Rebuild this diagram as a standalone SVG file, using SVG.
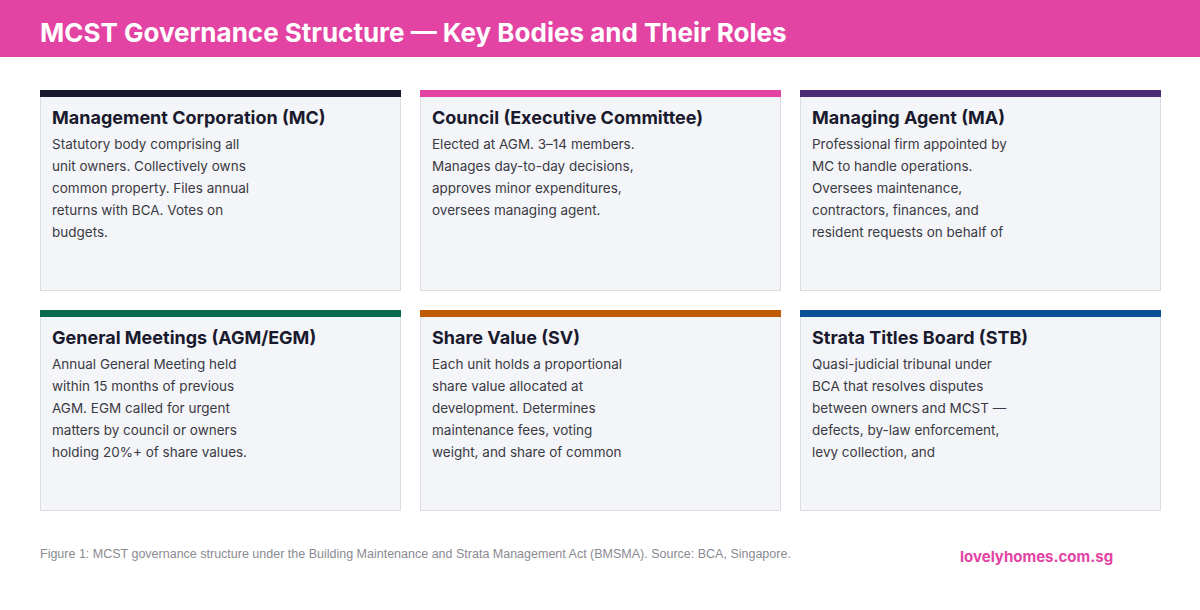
<svg xmlns="http://www.w3.org/2000/svg" width="1200" height="610" viewBox="0 0 1200 610">
<style>
.card{fill:#f4f5f8;stroke:#dcdde2;stroke-width:1}
.t{font-family:Inter,"Liberation Sans",sans-serif;font-weight:700;font-size:18px;fill:#1a1a2e}
.b{font-family:Inter,"Liberation Sans",sans-serif;font-size:13.5px;fill:#3a3a44}
</style>
<rect width="1200" height="610" fill="#ffffff"/>
<rect width="1200" height="57" fill="#e343a3"/>
<text x="40" y="42" font-family="Inter,'Liberation Sans',sans-serif" font-weight="700" font-size="26" fill="#ffffff">MCST Governance Structure — Key Bodies and Their Roles</text>
<g id="mc"><rect class="card" x="40.5" y="90.5" width="360" height="200"/><rect x="40" y="90" width="361" height="7" fill="#1a1a2e"/>
<text class="t" x="52" y="124">Management Corporation (MC)</text>
<text class="b"><tspan x="52" y="149">Statutory body comprising all</tspan><tspan x="52" y="171">unit owners. Collectively owns</tspan><tspan x="52" y="193">common property. Files annual</tspan><tspan x="52" y="215">returns with BCA. Votes on</tspan><tspan x="52" y="237">budgets.</tspan></text></g>
<g id="council"><rect class="card" x="420.5" y="90.5" width="360" height="200"/><rect x="420" y="90" width="361" height="7" fill="#e343a3"/>
<text class="t" x="432" y="124">Council (Executive Committee)</text>
<text class="b"><tspan x="432" y="149">Elected at AGM. 3–14 members.</tspan><tspan x="432" y="171">Manages day-to-day decisions,</tspan><tspan x="432" y="193">approves minor expenditures,</tspan><tspan x="432" y="215">oversees managing agent.</tspan></text></g>
<g id="ma"><rect class="card" x="800.5" y="90.5" width="360" height="200"/><rect x="800" y="90" width="361" height="7" fill="#4b2d73"/>
<text class="t" x="812" y="124">Managing Agent (MA)</text>
<text class="b"><tspan x="812" y="149">Professional firm appointed by</tspan><tspan x="812" y="171">MC to handle operations.</tspan><tspan x="812" y="193">Oversees maintenance,</tspan><tspan x="812" y="215">contractors, finances, and</tspan><tspan x="812" y="237">resident requests on behalf of</tspan></text></g>
<g id="gm"><rect class="card" x="40.5" y="310.5" width="360" height="200"/><rect x="40" y="310" width="361" height="7" fill="#0a6a50"/>
<text class="t" x="52" y="344">General Meetings (AGM/EGM)</text>
<text class="b"><tspan x="52" y="369">Annual General Meeting held</tspan><tspan x="52" y="391">within 15 months of previous</tspan><tspan x="52" y="413">AGM. EGM called for urgent</tspan><tspan x="52" y="435">matters by council or owners</tspan><tspan x="52" y="457">holding 20%+ of share values.</tspan></text></g>
<g id="sv"><rect class="card" x="420.5" y="310.5" width="360" height="200"/><rect x="420" y="310" width="361" height="7" fill="#bf5b04"/>
<text class="t" x="432" y="344">Share Value (SV)</text>
<text class="b"><tspan x="432" y="369">Each unit holds a proportional</tspan><tspan x="432" y="391">share value allocated at</tspan><tspan x="432" y="413">development. Determines</tspan><tspan x="432" y="435">maintenance fees, voting</tspan><tspan x="432" y="457">weight, and share of common</tspan></text></g>
<g id="stb"><rect class="card" x="800.5" y="310.5" width="360" height="200"/><rect x="800" y="310" width="361" height="7" fill="#0b4f96"/>
<text class="t" x="812" y="344">Strata Titles Board (STB)</text>
<text class="b"><tspan x="812" y="369">Quasi-judicial tribunal under</tspan><tspan x="812" y="391">BCA that resolves disputes</tspan><tspan x="812" y="413">between owners and MCST —</tspan><tspan x="812" y="435">defects, by-law enforcement,</tspan><tspan x="812" y="457">levy collection, and</tspan></text></g>
<g id="connectors"/>
<text x="40" y="558" font-family="'Liberation Sans',Arial,sans-serif" font-size="12.5" fill="#8a8a92">Figure 1: MCST governance structure under the Building Maintenance and Strata Management Act (BMSMA). Source: BCA, Singapore.</text>
<text x="960" y="562" font-family="Inter,'Liberation Sans',sans-serif" font-weight="700" font-size="15" fill="#e343a3">lovelyhomes.com.sg</text>
</svg>
